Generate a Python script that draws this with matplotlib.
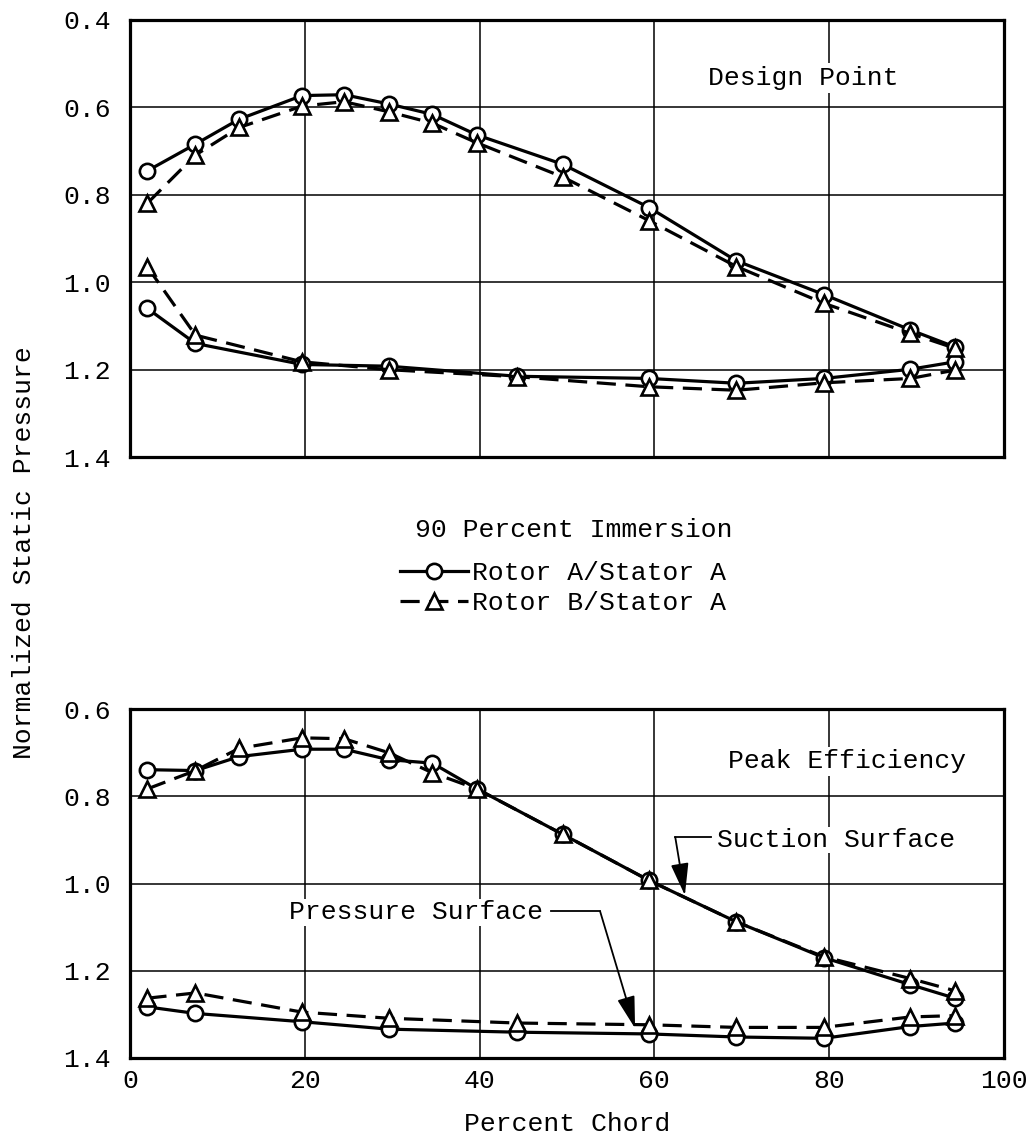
import matplotlib.pyplot as plt
from matplotlib.lines import Line2D

plt.rcParams['font.family'] = ['Liberation Mono', 'DejaVu Sans Mono']
plt.rcParams['font.size'] = 19

# chord stations (percent chord)
suc_x = [2.0, 7.5, 12.5, 19.7, 24.5, 29.6, 34.6, 39.7, 49.5, 59.4, 69.4, 79.4, 89.3, 94.4]
prs_x = [2.0, 7.5, 19.7, 29.6, 44.3, 59.4, 69.4, 79.4, 89.3, 94.4]

# design point, normalized static pressure
dp_suc_a = [0.745, 0.684, 0.627, 0.573, 0.571, 0.592, 0.616, 0.663, 0.730, 0.829, 0.951, 1.028, 1.109, 1.148]
dp_suc_b = [0.819, 0.709, 0.646, 0.597, 0.587, 0.610, 0.636, 0.681, 0.759, 0.859, 0.964, 1.048, 1.117, 1.151]
dp_prs_a = [1.060, 1.140, 1.188, 1.192, 1.215, 1.220, 1.231, 1.220, 1.199, 1.182]
dp_prs_b = [0.965, 1.121, 1.182, 1.200, 1.216, 1.239, 1.247, 1.230, 1.220, 1.201]

# peak efficiency
pe_suc_a = [0.739, 0.741, 0.709, 0.692, 0.692, 0.716, 0.724, 0.783, 0.887, 0.993, 1.088, 1.170, 1.232, 1.263]
pe_suc_b = [0.783, 0.741, 0.690, 0.666, 0.668, 0.700, 0.746, 0.783, 0.887, 0.993, 1.088, 1.168, 1.218, 1.246]
pe_prs_a = [1.283, 1.298, 1.317, 1.334, 1.341, 1.345, 1.352, 1.355, 1.328, 1.320]
pe_prs_b = [1.263, 1.251, 1.295, 1.309, 1.320, 1.324, 1.330, 1.330, 1.306, 1.303]

top_ticks = [0.4, 0.6, 0.8, 1.0, 1.2, 1.4]
bot_ticks = [0.6, 0.8, 1.0, 1.2, 1.4]
x_ticks = [0, 20, 40, 60, 80, 100]

style_a = dict(color='black', lw=2.3, ls='-', marker='o', ms=11, mfc='white', mec='black', mew=1.9)
style_b = dict(color='black', lw=2.3, ls=(0, (6, 3)), marker='^', ms=12, mfc='white', mec='black', mew=1.9)

fig = plt.figure(figsize=(10.33, 11.4), dpi=100)
ax1 = fig.add_axes([0.1258, 0.599, 0.846, 0.3835])
ax2 = fig.add_axes([0.1258, 0.072, 0.846, 0.306])


def setup(ax, ticks):
    ax.set_xlim(0, 100)
    ax.set_ylim(ticks[-1], ticks[0])
    ax.set_yticks(ticks)
    ax.set_yticklabels([f'{t:.1f}' for t in ticks])
    ax.set_xticks(x_ticks)
    ax.tick_params(length=0, pad=14)
    ax.grid(True, color='black', lw=1.1)
    for s in ax.spines.values():
        s.set_linewidth(2.3)


setup(ax1, top_ticks)
ax1.set_xticklabels([])
ax1.plot(suc_x, dp_suc_a, **style_a)
ax1.plot(prs_x, dp_prs_a, **style_a)
ax1.plot(suc_x, dp_suc_b, **style_b)
ax1.plot(prs_x, dp_prs_b, **style_b)
ax1.text(77, 0.533, 'Design Point', ha='center', va='center',
         bbox=dict(facecolor='white', edgecolor='none', pad=2))

setup(ax2, bot_ticks)
ax2.set_xticklabels([str(t) for t in x_ticks])
ax2.tick_params(axis='x', pad=8)
ax2.plot(suc_x, pe_suc_a, **style_a)
ax2.plot(prs_x, pe_prs_a, **style_a)
ax2.plot(suc_x, pe_suc_b, **style_b)
ax2.plot(prs_x, pe_prs_b, **style_b)
ax2.text(82.1, 0.72, 'Peak Efficiency', ha='center', va='center',
         bbox=dict(facecolor='white', edgecolor='none', pad=2))
ax2.set_xlabel('Percent Chord', labelpad=14)

# leader lines for the surface labels
arrow = dict(arrowstyle='-|>,head_length=0.9,head_width=0.25', color='black', lw=1.3,
             mutation_scale=22, shrinkA=0, shrinkB=0)
ax2.text(67.2, 0.9, 'Suction Surface', ha='left', va='center',
         bbox=dict(facecolor='white', edgecolor='none', pad=1))
ax2.plot([66.5, 62.4], [0.894, 0.894], color='black', lw=1.3)
ax2.annotate('', xy=(63.5, 1.027), xytext=(62.4, 0.894), arrowprops=arrow)

ax2.text(47.3, 1.066, 'Pressure Surface', ha='right', va='center',
         bbox=dict(facecolor='white', edgecolor='none', pad=1))
ax2.plot([48.2, 53.8], [1.064, 1.064], color='black', lw=1.3)
ax2.annotate('', xy=(57.8, 1.332), xytext=(53.8, 1.064), arrowprops=arrow)

fig.text(0.023, 0.515, 'Normalized Static Pressure', rotation=90, ha='center', va='center')
fig.text(0.555, 0.535, '90 Percent Immersion', ha='center', va='center')

handles = [Line2D([], [], **style_a), Line2D([], [], **style_b)]
fig.legend(handles, ['Rotor A/Stator A', 'Rotor B/Stator A'], loc='upper left',
           bbox_to_anchor=(0.387, 0.508), frameon=False, borderpad=0, borderaxespad=0,
           handlelength=2.6, handletextpad=0.15, labelspacing=0.25)

fig.savefig('out.png', dpi=100)
